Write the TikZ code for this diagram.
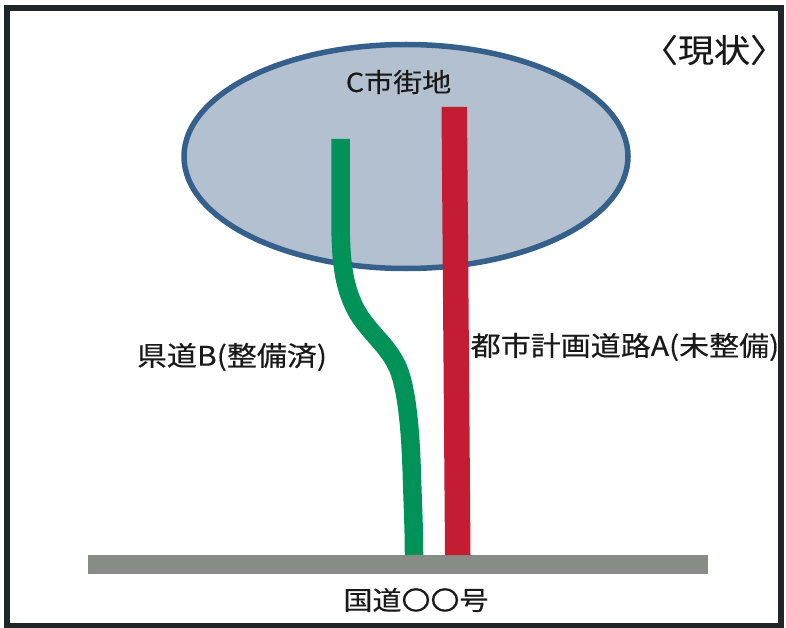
\documentclass[tikz,border=0pt]{standalone}
\usepackage{fontspec}
\usepackage{graphicx}
\setmainfont[FakeBold=0.3]{Noto Sans CJK JP}
\usetikzlibrary{shapes.geometric}
\definecolor{framec}{RGB}{32,38,40}
\definecolor{cityfill}{RGB}{178,192,208}
\definecolor{cityline}{RGB}{54,96,140}
\definecolor{roadred}{RGB}{196,28,50}
\definecolor{roadgreen}{RGB}{0,146,88}
\definecolor{roadgray}{RGB}{136,140,134}
\newcommand{\squash}[1]{\scalebox{1}[0.9]{#1}}
\tikzset{
  x=1pt,y=-1pt,
  label text/.style={inner sep=0pt,text=black!90,font=\fontsize{30}{34}\selectfont},
}
\begin{document}
\begin{tikzpicture}
\useasboundingbox (0,0) rectangle (786,628);
\fill[white] (0,0) rectangle (786,628);
\draw[framec,line width=6pt] (7,8) rectangle (781,626);
\node[ellipse,draw=cityline,fill=cityfill,line width=5.5pt,minimum width=444pt,minimum height=224pt,inner sep=0pt] (city) at (406,156.5) {};
\node[fill=roadgray,minimum width=620pt,minimum height=19pt,inner sep=0pt] (national) at (398,564.5) {};
\coordinate (gtop) at (340.5,139);
\coordinate (gbot) at (414,555);
\draw[roadgreen,line width=18.5pt] (gtop) -- (340.5,215) .. controls (340.5,260) and (343,285) .. (356,310) .. controls (368,332) and (388,345) .. (398,368) .. controls (408,392) and (411,440) .. (412,480) .. controls (413,510) and (414,530) .. (gbot);
\fill[roadred] (441.5,107) -- (467,107) -- (470.5,555) -- (445,555) -- cycle;
\node[label text,font=\fontsize{36}{40}\selectfont] (title) at (714,50) {\squash{〈現状〉}};
\node[label text,font=\fontsize{29}{34}\selectfont] (citylabel) at (398.5,82) {\squash{C市街地}};
\node[label text] (ken) at (232,357) {\squash{県道B(整備済)}};
\node[label text] (toshi) at (625,347) {\squash{都市計画道路A(未整備)}};
\node[label text,font=\fontsize{29}{34}\selectfont] (kokudo) at (416,600) {\squash{国道〇〇号}};
\end{tikzpicture}
\end{document}
